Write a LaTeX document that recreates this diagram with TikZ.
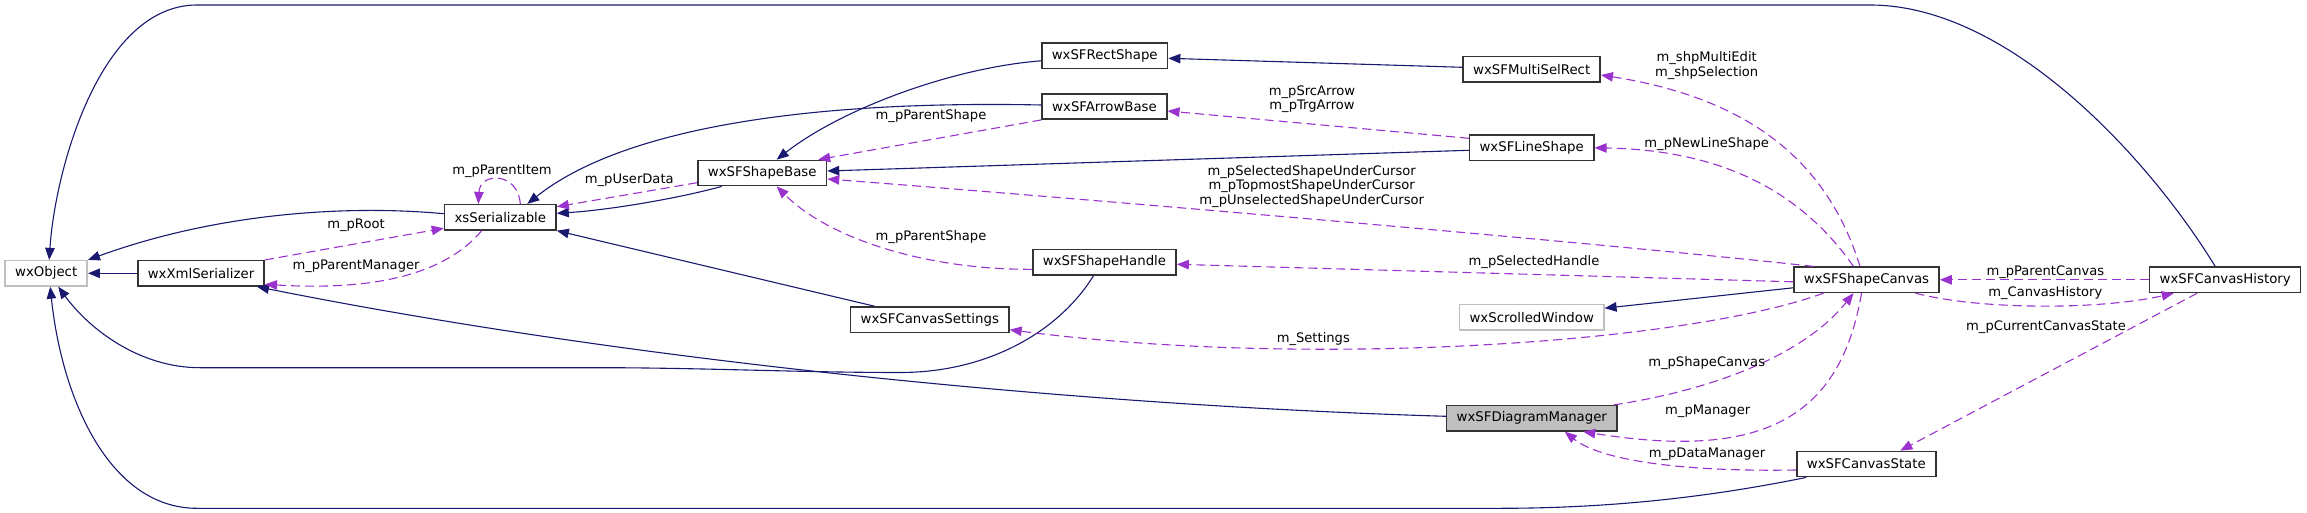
\documentclass[tikz,border=0pt]{standalone}
\usepackage{fontspec}
\setmainfont{DejaVu Sans}
\usetikzlibrary{arrows.meta}
\definecolor{inhblue}{HTML}{191970}
\definecolor{usepurple}{HTML}{9A32CD}
\definecolor{extgray}{HTML}{BFBFBF}
\definecolor{boxline}{HTML}{333333}

\begin{document}
\begin{tikzpicture}[x=1pt,y=-1pt,
  cls/.style={draw=boxline,line width=1.5pt,fill=white,inner xsep=10pt,inner ysep=0pt,
    minimum height=25.3pt,font=\fontsize{13.3}{15}\selectfont},
  ext/.style={cls,draw=extgray},
  inh/.style={draw=inhblue,line width=1.1pt,-{Triangle[length=12pt,width=9.5pt]}},
  use/.style={draw=usepurple,line width=1.1pt,dash pattern=on 9pt off 5pt,
    -{Triangle[length=12pt,width=9.5pt]}},
  lbl/.style={font=\fontsize{13.1}{14.5}\selectfont,align=center,inner sep=0pt}]
  \useasboundingbox (0,0) rectangle (2307,513);
  % classes
  \node[ext] (obj) at (46.2,273.3) {wxObject};
  \node[cls] (xmlser) at (201,273.3) {wxXmlSerializer};
  \node[cls] (xsser) at (500.3,217.3) {xsSerializable};
  \node[cls] (shpbase) at (762.2,173) {wxSFShapeBase};
  \node[cls] (rect) at (1104.7,55.8) {wxSFRectShape};
  \node[cls] (arrow) at (1104.5,106.5) {wxSFArrowBase};
  \node[cls] (handle) at (1104.5,262.3) {wxSFShapeHandle};
  \node[cls] (settings) at (929.8,319.7) {wxSFCanvasSettings};
  \node[cls] (multisel) at (1531.7,69.3) {wxSFMultiSelRect};
  \node[cls] (line) at (1531.7,147.8) {wxSFLineShape};
  \node[ext] (scrolled) at (1531.7,317.2) {wxScrolledWindow};
  \node[cls,fill=extgray] (diagram) at (1531.8,418.3) {wxSFDiagramManager};
  \node[cls] (canvas) at (1866.5,279.8) {wxSFShapeCanvas};
  \node[cls] (state) at (1866.3,464) {wxSFCanvasState};
  \node[cls] (history) at (2225.2,279.8) {wxSFCanvasHistory};
  % inheritance
  \draw[inh] (xmlser) -- (obj);
  \draw[inh] ([yshift=3.6pt]xsser.west) .. controls (350,205) and (220,212) .. (obj.north east);
  \draw[inh] ([xshift=-40.5pt]shpbase.south) .. controls (680,198) and (610,210) .. ([yshift=4pt]xsser.east);
  \draw[inh] ([yshift=1.5pt]arrow.west) .. controls (800,100) and (620,130) .. ([xshift=27pt]xsser.north);
  \draw[inh] ([yshift=-5pt]rect.west) .. controls (950,68) and (840,110) .. ([xshift=14.5pt]shpbase.north);
  \draw[inh] ([yshift=2pt]multisel.west) -- ([yshift=-2.5pt]rect.east);
  \draw[inh] ([yshift=-2.5pt]line.west) -- ([yshift=2pt]shpbase.east);
  \draw[inh] ([xshift=-55pt]settings.north) -- (xsser.south east);
  \draw[inh] ([xshift=-11pt]handle.south) .. controls (1060,330) and (990,372.5) .. (900,372.5)
    .. controls (800,372.5) and (700,367.7) .. (600,367.7) -- (200,367.7)
    .. controls (140,367.7) and (90,330) .. ([xshift=12pt]obj.south);
  \draw[inh] ([yshift=2pt]diagram.west) .. controls (1100,406) and (650,365) .. ([xshift=-8pt]xmlser.south east);
  \draw[inh] ([yshift=-8pt]canvas.west) -- ([yshift=9pt]scrolled.east);
  \draw[inh] ([xshift=-10pt]history.north) .. controls (2150,160) and (2010,5) .. (1870,5)
    -- (197,5) .. controls (100,5) and (55,170) .. ([xshift=3pt]obj.north);
  \draw[inh] ([xshift=-60pt]state.south) .. controls (1720,495) and (1620,508.3) .. (1500,508.3)
    -- (197,508.3) .. controls (110,508.3) and (62,400) .. ([xshift=4pt]obj.south);
  % members
  \draw[use] (xmlser.north east) -- ([yshift=-11pt]xsser.west);
  \draw[use] ([xshift=-18.6pt]xsser.south) .. controls (440,280) and (360,290) .. ([yshift=-11pt]xmlser.east);
  \draw[use] ([xshift=20pt]xsser.north) .. controls (518,171.7) and (480,171.7) .. ([xshift=-22pt]xsser.north);
  \draw[use] ([yshift=-9.7pt]shpbase.west) -- ([yshift=10.6pt]xsser.east);
  \draw[use] (arrow.south west) -- ([xshift=56pt]shpbase.north);
  \draw[use] ([yshift=-7pt]handle.west) .. controls (930,270) and (830,240) .. ([xshift=14.5pt]shpbase.south);
  \draw[use] ([yshift=9.5pt]line.west) -- ([yshift=-4.5pt]arrow.east);
  \draw[use] ([xshift=-53pt]canvas.north) .. controls (1600,243) and (1100,200) .. ([yshift=-6pt]shpbase.east);
  \draw[use] ([yshift=-2pt]canvas.west) -- ([yshift=-2pt]handle.east);
  \draw[use] ([xshift=-6.5pt]canvas.north) .. controls (1830,170) and (1760,100) .. ([yshift=-5.7pt]multisel.east);
  \draw[use] ([xshift=-13pt]canvas.north) .. controls (1800,190) and (1720,150) .. (line.east);
  \draw[use] ([xshift=-43pt]canvas.south) .. controls (1680,345) and (1300,368) .. ([yshift=-10pt]settings.east);
  \draw[use] ([xshift=-4pt]diagram.north east) .. controls (1700,392) and (1800,360) .. ([xshift=-13pt]canvas.south);
  \draw[use] ([xshift=-5pt]canvas.south) .. controls (1840,420) and (1760,460) .. ([xshift=51.5pt]diagram.south);
  \draw[use] ([yshift=-6pt]state.west) .. controls (1680,472) and (1600,460) .. ([xshift=33pt]diagram.south);
  \draw[use] (history.west) -- (canvas.east);
  \draw[use] ([xshift=49pt]canvas.south) .. controls (1980,310) and (2100,310) .. ([xshift=-51.5pt]history.south);
  \draw[use] ([xshift=-28pt]history.south) -- ([xshift=34pt]state.north);
  % member names
  \node[lbl] (lroot) at (356,225) {m\_pRoot};
  \node[lbl] (lmanager) at (356,266.7) {m\_pParentManager};
  \node[lbl] (litem) at (502,171.7) {m\_pParentItem};
  \node[lbl] (luser) at (629.3,180) {m\_pUserData};
  \node[lbl] (lshape) at (931,115.7) {m\_pParentShape};
  \node[lbl] (lshapeh) at (931,236.7) {m\_pParentShape};
  \node[lbl] (larrows) at (1312,99.2) {m\_pSrcArrow\\m\_pTrgArrow};
  \node[lbl] (lcursor) at (1311.7,186.3) {m\_pSelectedShapeUnderCursor\\m\_pTopmostShapeUnderCursor\\m\_pUnselectedShapeUnderCursor};
  \node[lbl] (lhandle) at (1534,262.3) {m\_pSelectedHandle};
  \node[lbl] (lsettings) at (1313.3,338.7) {m\_Settings};
  \node[lbl] (lmulti) at (1706.7,65.5) {m\_shpMultiEdit\\m\_shpSelection};
  \node[lbl] (lnewline) at (1706.7,143.7) {m\_pNewLineShape};
  \node[lbl] (lcanvas) at (1706.7,363.3) {m\_pShapeCanvas};
  \node[lbl] (lmgr) at (1707.7,411.7) {m\_pManager};
  \node[lbl] (ldata) at (1707,454.7) {m\_pDataManager};
  \node[lbl] (lparent) at (2045.3,271.7) {m\_pParentCanvas};
  \node[lbl] (lhistory) at (2045.3,292.7) {m\_CanvasHistory};
  \node[lbl] (lstate) at (2046,326.7) {m\_pCurrentCanvasState};
\end{tikzpicture}
\end{document}
